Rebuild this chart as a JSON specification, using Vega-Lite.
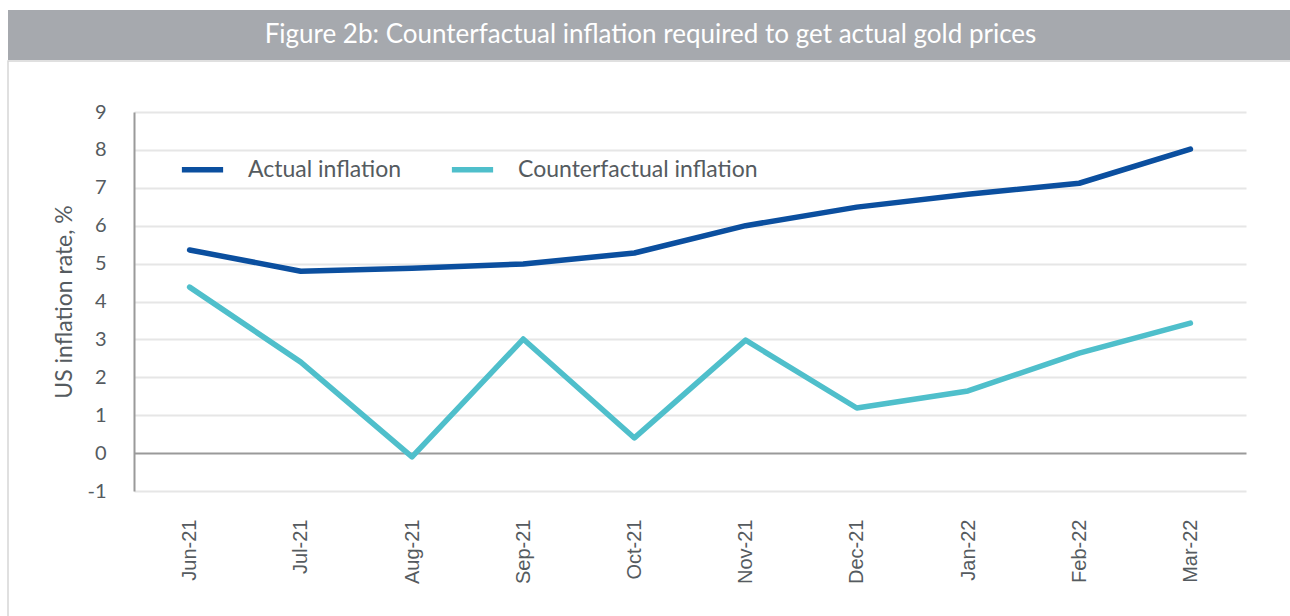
{
  "$schema": "https://vega.github.io/schema/vega-lite/v6.json",
  "background": "white",
  "padding": {"left": 7, "top": 10, "right": 0, "bottom": 0},
  "spacing": 0,
  "config": {"font": "Lato"},
  "vconcat": [
    {
      "width": 1285,
      "height": 50,
      "view": {"fill": "#a6a9ae", "stroke": null},
      "data": {"values": [{"title": "Figure 2b: Counterfactual inflation required to get actual gold prices"}]},
      "mark": {"type": "text", "color": "white", "font": "Lato", "fontSize": 26, "baseline": "middle", "align": "center"},
      "encoding": {"text": {"field": "title", "type": "nominal"}}
    },
    {
      "width": 1285,
      "height": 558,
      "view": {"stroke": "#d6d6d6", "strokeWidth": 1.5, "fill": "white"},
      "data": {
        "values": [
          {"month": "Jun-21", "series": "Actual inflation", "value": 5.36},
          {"month": "Jul-21", "series": "Actual inflation", "value": 4.8},
          {"month": "Aug-21", "series": "Actual inflation", "value": 4.88},
          {"month": "Sep-21", "series": "Actual inflation", "value": 4.99},
          {"month": "Oct-21", "series": "Actual inflation", "value": 5.28},
          {"month": "Nov-21", "series": "Actual inflation", "value": 6.0},
          {"month": "Dec-21", "series": "Actual inflation", "value": 6.49},
          {"month": "Jan-22", "series": "Actual inflation", "value": 6.83},
          {"month": "Feb-22", "series": "Actual inflation", "value": 7.12},
          {"month": "Mar-22", "series": "Actual inflation", "value": 8.02},
          {"month": "Jun-21", "series": "Counterfactual inflation", "value": 4.38},
          {"month": "Jul-21", "series": "Counterfactual inflation", "value": 2.4},
          {"month": "Aug-21", "series": "Counterfactual inflation", "value": -0.1},
          {"month": "Sep-21", "series": "Counterfactual inflation", "value": 3.01},
          {"month": "Oct-21", "series": "Counterfactual inflation", "value": 0.4},
          {"month": "Nov-21", "series": "Counterfactual inflation", "value": 2.98},
          {"month": "Dec-21", "series": "Counterfactual inflation", "value": 1.19},
          {"month": "Jan-22", "series": "Counterfactual inflation", "value": 1.64},
          {"month": "Feb-22", "series": "Counterfactual inflation", "value": 2.64},
          {"month": "Mar-22", "series": "Counterfactual inflation", "value": 3.43}
        ]
      },
      "mark": {"type": "line", "strokeWidth": 5.5, "strokeCap": "round", "strokeJoin": "round"},
      "encoding": {
        "x": {
          "field": "month",
          "type": "ordinal",
          "sort": ["Jun-21", "Jul-21", "Aug-21", "Sep-21", "Oct-21", "Nov-21", "Dec-21", "Jan-22", "Feb-22", "Mar-22"],
          "scale": {"type": "point", "range": [126, 1238], "padding": 0.5},
          "axis": {
            "title": null,
            "orient": "bottom",
            "offset": -128,
            "domain": false,
            "ticks": false,
            "grid": false,
            "labelAngle": -90,
            "labelPadding": 28,
            "labelFont": "Liberation Sans",
            "labelFontSize": 20,
            "labelColor": "#555b60"
          }
        },
        "y": {
          "field": "value",
          "type": "quantitative",
          "scale": {"domain": [-1, 9], "range": [430, 51], "nice": false, "zero": false},
          "axis": {
            "title": "US inflation rate, %",
            "values": [-1, 0, 1, 2, 3, 4, 5, 6, 7, 8, 9],
            "labelExpr": "toString(datum.value)",
            "offset": -126,
            "domain": true,
            "domainColor": "#9a9a9a",
            "domainWidth": 2,
            "ticks": false,
            "grid": true,
            "gridColor": {"condition": {"test": "datum.value === 0", "value": "#9a9a9a"}, "value": "#e6e6e6"},
            "gridWidth": 2,
            "labelPadding": 28,
            "labelFont": "Lato",
            "labelFontSize": 20,
            "labelColor": "#555b60",
            "titleFont": "Lato",
            "titleFontSize": 23,
            "titleFontWeight": "normal",
            "titleColor": "#555b60",
            "titlePadding": 10
          }
        },
        "color": {
          "field": "series",
          "type": "nominal",
          "scale": {"domain": ["Actual inflation", "Counterfactual inflation"], "range": ["#0b4f9f", "#4fbfcb"]},
          "legend": {
            "title": null,
            "orient": "none",
            "direction": "horizontal",
            "legendX": 171,
            "legendY": 136,
            "padding": 0,
            "symbolType": "stroke",
            "symbolStrokeWidth": 5.5,
            "symbolSize": 1700,
            "labelFont": "Lato",
            "labelFontSize": 23,
            "labelLimit": 0,
            "labelColor": "#555b60",
            "labelOffset": 22,
            "columnPadding": 38
          }
        }
      }
    }
  ]
}
